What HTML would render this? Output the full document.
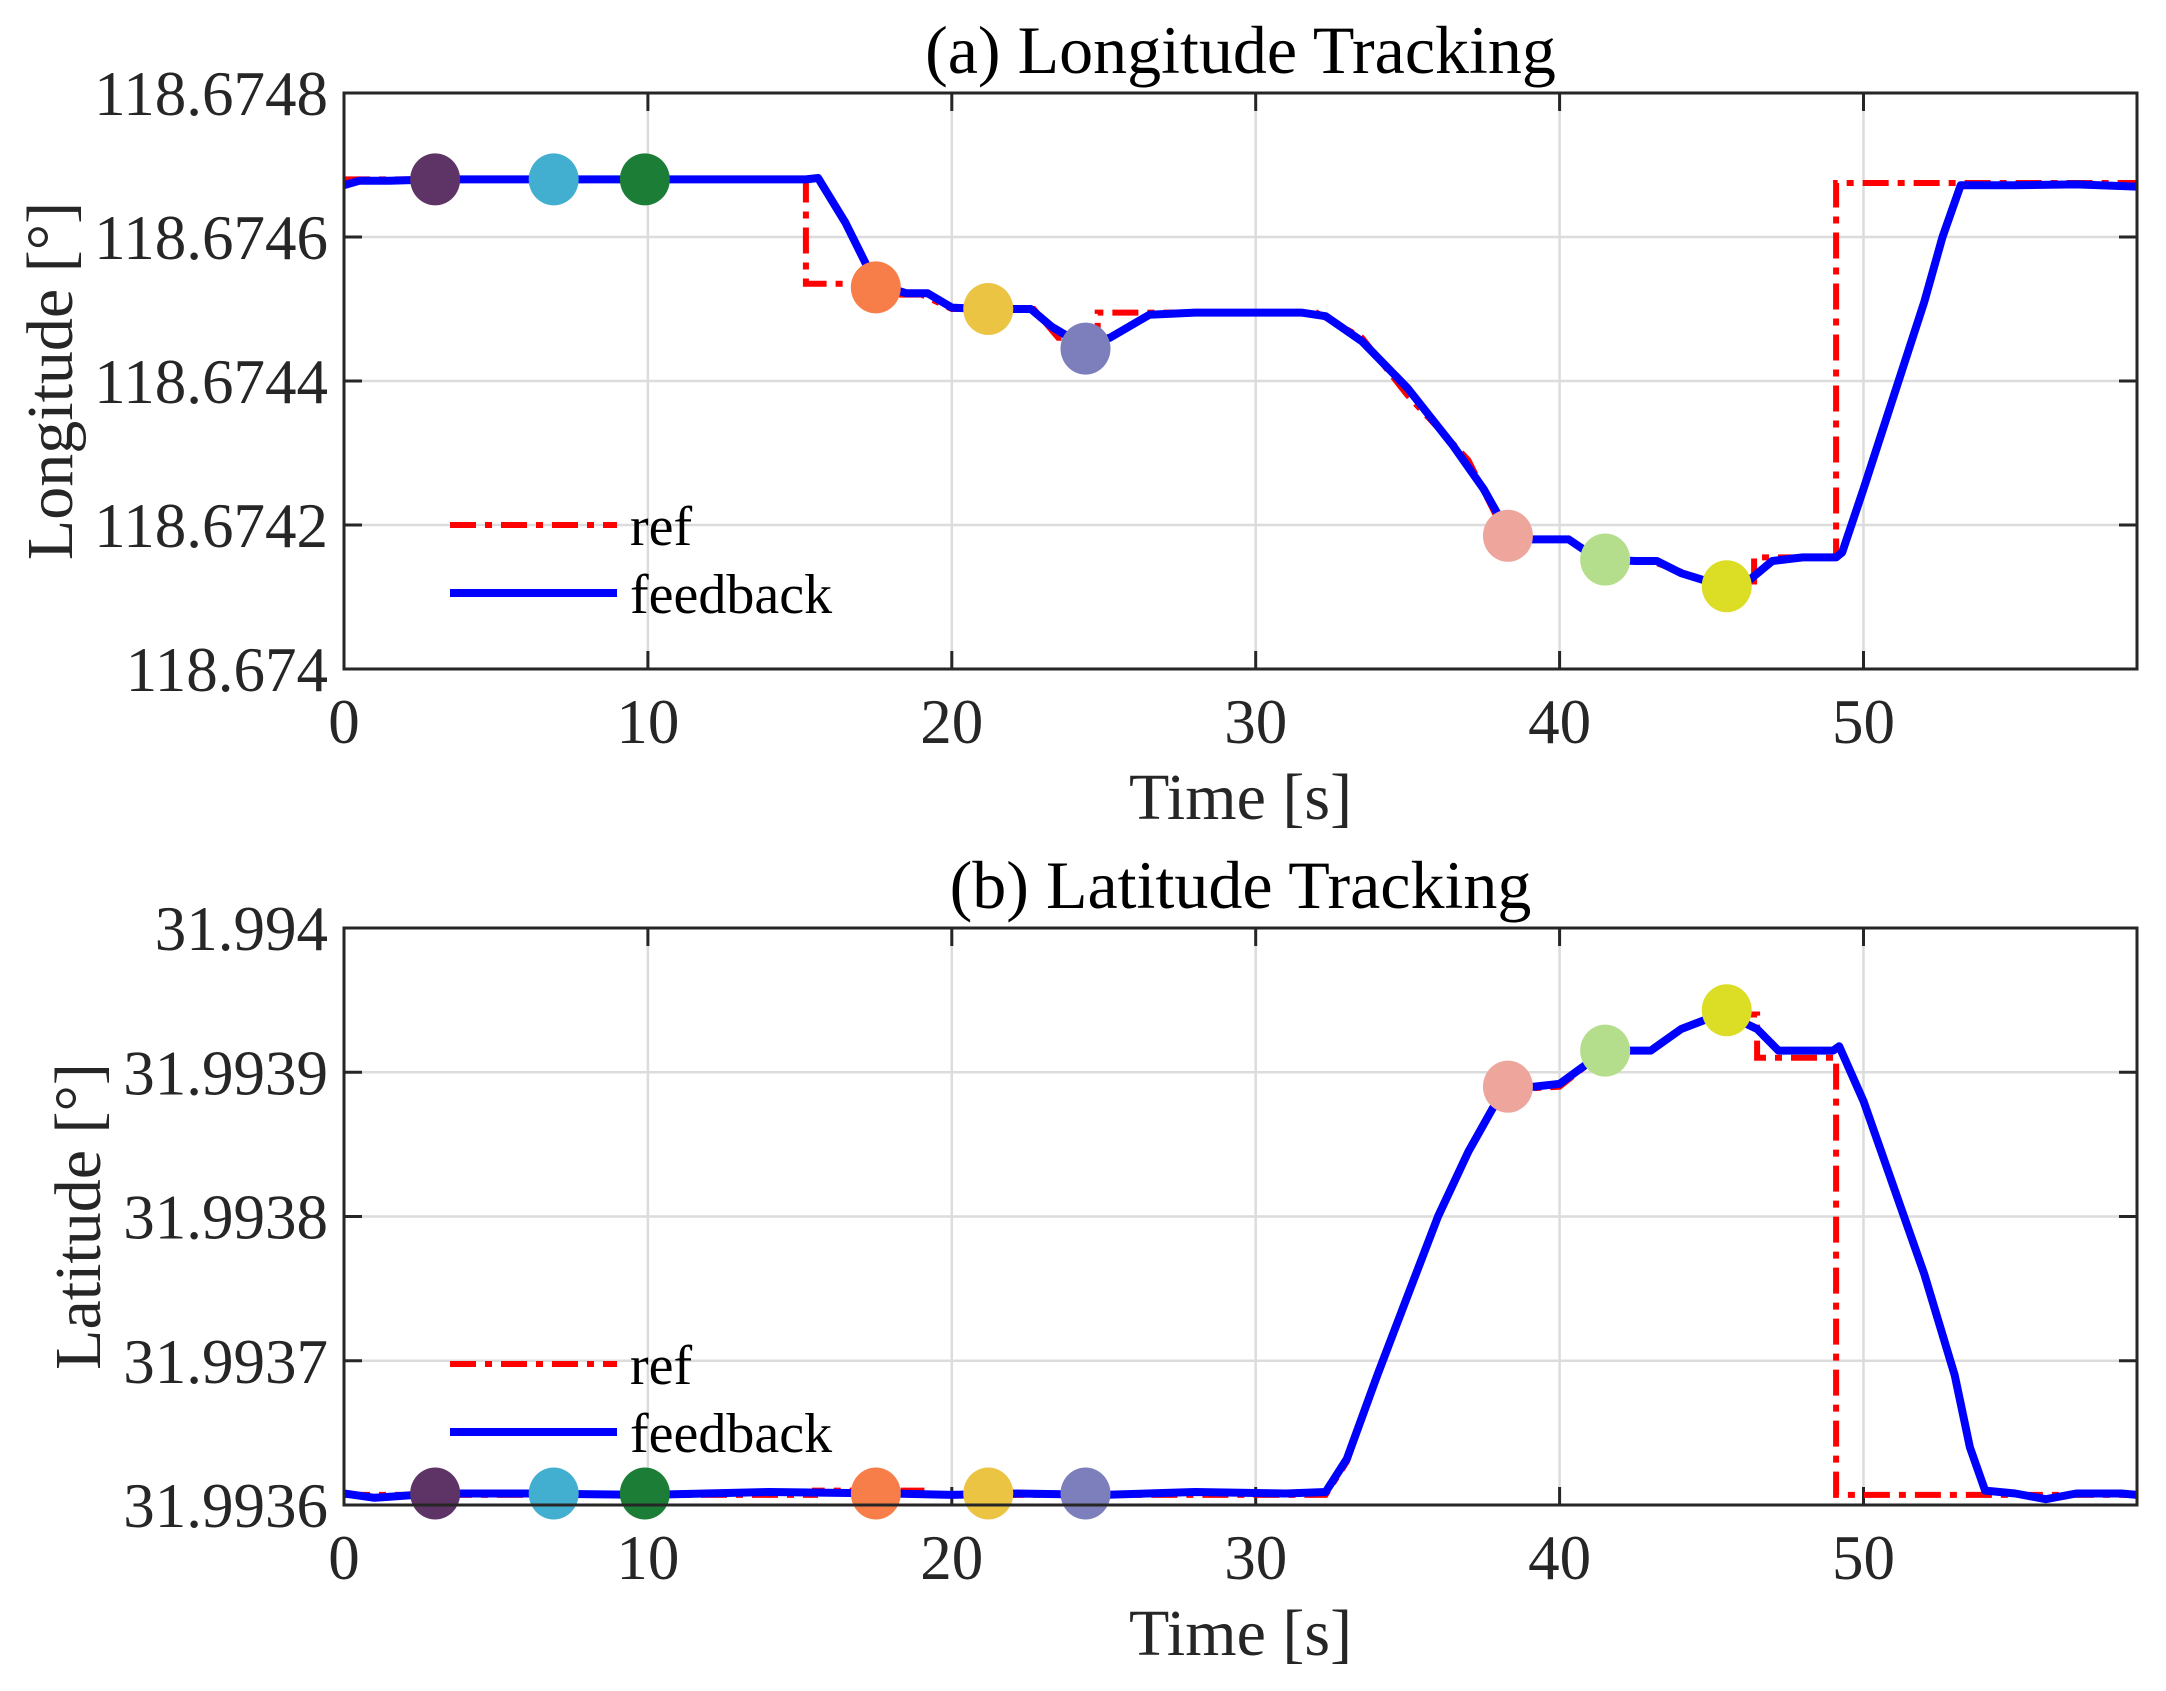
<!DOCTYPE html>
<html><head><meta charset="utf-8"><style>
html,body{margin:0;padding:0;background:#fff}
svg{display:block}
text{font-family:"Liberation Serif",serif;fill:#262626}
</style></head><body>
<svg id="chart" width="2166" height="1691" viewBox="0 0 2166 1691" xmlns="http://www.w3.org/2000/svg"></svg>
<script>
// ---- data ----
const xTicks = [0,10,20,30,40,50];
const lonTickLabels = ["118.674","118.6742","118.6744","118.6746","118.6748"];
const latTickLabels = ["31.9936","31.9937","31.9938","31.9939","31.994"];
// longitude in units of 1e-4 deg above 118.674
const lonRefT = [0,15.2,15.2,17.5,18.0,19.0,20.0,22.7,23.5,24.8,24.8,32,33.5,35,37,38.3,40.3,41.5,43,45,45.5,46.4,46.4,49.1,49.1,59];
const lonRefV = [6.8,6.8,5.35,5.35,5.2,5.2,5.0,5.0,4.6,4.6,4.95,4.95,4.6,3.8,2.9,1.8,1.8,1.5,1.5,1.2,1.15,1.15,1.55,1.55,6.75,6.75];
const lonFbT = [0,0.5,1.5,3,5,8,12,15.2,15.6,16.5,17.5,18.5,19.2,20,21,22.6,23.3,24.3,25.2,26.5,28,31.5,32.3,33.5,35,36.5,37.5,38.3,39,40.3,41,41.5,42.5,43.2,44,45,45.5,46.2,47,48,49.1,49.3,50,51,52,52.6,53.2,55,57,59];
const lonFbV = [6.72,6.78,6.78,6.8,6.8,6.8,6.8,6.8,6.82,6.2,5.35,5.22,5.22,5.02,5.0,5.0,4.75,4.5,4.6,4.92,4.95,4.95,4.9,4.55,3.9,3.1,2.5,1.9,1.8,1.8,1.6,1.52,1.5,1.5,1.33,1.2,1.15,1.22,1.5,1.55,1.55,1.62,2.5,3.8,5.1,6.0,6.72,6.72,6.73,6.7];
const latRefT = [0,15.5,15.5,19,19,32.3,33,34,35,36,37,37.8,38.3,40,41.5,43,44,45,45.5,46.5,46.5,49.1,49.1,59];
const latRefV = [0.07,0.07,0.1,0.1,0.07,0.07,0.3,0.9,1.45,2.0,2.45,2.75,2.88,2.9,3.15,3.15,3.3,3.38,3.4,3.4,3.1,3.1,0.07,0.07];
const latFbT = [0,1,3,6,10,14,18,20,22,25,28,31,32.3,33,34,35,36,37,37.8,38.3,40,41.5,43,44,45,45.5,46.5,47.2,49,49.2,50,51,52,53,53.5,54,55,56,57,58.5,59];
const latFbV = [0.08,0.05,0.08,0.08,0.07,0.09,0.08,0.07,0.08,0.07,0.09,0.08,0.09,0.32,0.9,1.45,2.0,2.45,2.75,2.88,2.92,3.15,3.15,3.3,3.38,3.4,3.3,3.15,3.15,3.18,2.8,2.2,1.6,0.9,0.4,0.1,0.08,0.04,0.08,0.08,0.07];
const markerColors = ["#5e3366","#42aed0","#1b7d36","#f77e48","#ecc444","#7d7fbc","#eda59c","#b4de8c","#dcdd25"];
const markerT = [3.0,6.9,9.9,17.5,21.2,24.4,38.3,41.5,45.5];
const lonMarkerV = [6.8,6.8,6.8,5.3,5.0,4.45,1.85,1.52,1.15];
const latMarkerV = [0.08,0.08,0.08,0.08,0.08,0.08,2.9,3.15,3.43];

const NS="http://www.w3.org/2000/svg";
const svg=document.getElementById('chart');
function mk(tag,attrs,parent){const e=document.createElementNS(NS,tag);for(const k in attrs)e.setAttribute(k,attrs[k]);(parent||svg).appendChild(e);return e;}

function panel(cfg){
  const L=344,R=2137,T=cfg.top,B=cfg.bottom;
  const xs=t=>L+(t-0)/59*(R-L);
  const ys=v=>B-(v-cfg.vmin)/(cfg.vmax-cfg.vmin)*(B-T);
  const g=mk('g',{});
  
  
  xTicks.forEach(t=>{ if(t>0){const l=mk('line',{x1:xs(t),x2:xs(t),y1:T,y2:B,stroke:'#dcdcdc','stroke-width':2.5},g);
    }});
  cfg.labels.forEach((s,i)=>{const v=cfg.vmin+i*(cfg.vmax-cfg.vmin)/(cfg.labels.length-1);
    if(i>0&&i<cfg.labels.length-1){const l=mk('line',{x1:L,x2:R,y1:ys(v),y2:ys(v),stroke:'#dcdcdc','stroke-width':2.5},g);
    }
    const tx=mk('text',{x:L-16,y:ys(v)+22,'text-anchor':'end','font-size':63},g);tx.textContent=s;
    
    mk('line',{x1:L,x2:L+18,y1:ys(v),y2:ys(v),stroke:'#262626','stroke-width':3},g);
    mk('line',{x1:R,x2:R-18,y1:ys(v),y2:ys(v),stroke:'#262626','stroke-width':3},g);
  });
  xTicks.forEach(t=>{const tx=mk('text',{x:xs(t),y:B+74,'text-anchor':'middle','font-size':63},g);tx.textContent=t;
    
    mk('line',{x1:xs(t),x2:xs(t),y1:B,y2:B-18,stroke:'#262626','stroke-width':3},g);
    mk('line',{x1:xs(t),x2:xs(t),y1:T,y2:T+18,stroke:'#262626','stroke-width':3},g);});
  const clip='clip'+cfg.name;
  const cp=mk('clipPath',{id:clip},g);mk('rect',{x:L,y:T-30,width:R-L,height:B-T+60},cp);
  const pts=(ts,vs)=>ts.map((t,i)=>xs(t).toFixed(1)+','+ys(vs[i]).toFixed(1)).join(' ');
  const ref=mk('polyline',{points:pts(cfg.refT,cfg.refV),fill:'none',stroke:'#ff0000','stroke-width':6,'stroke-dasharray':'26,9,7,9','clip-path':'url(#'+clip+')'},g);
  
  const fb=mk('polyline',{points:pts(cfg.fbT,cfg.fbV),fill:'none',stroke:'#0000ff','stroke-width':8,'stroke-linejoin':'round','clip-path':'url(#'+clip+')'},g);
  
  markerT.forEach((t,i)=>{const c=mk('ellipse',{cx:xs(t),cy:ys(cfg.markV[i]),rx:25,ry:26,fill:markerColors[i]},g);
    });
  const box=mk('rect',{x:L,y:T,width:R-L,height:B-T,fill:'none',stroke:'#262626','stroke-width':3},g);
  
  const ti=mk('text',{x:(L+R)/2,y:T-20,'text-anchor':'middle','font-size':68,style:'fill:#000'},g);ti.textContent=cfg.title;
  
  const xl=mk('text',{x:(L+R)/2,y:B+150,'text-anchor':'middle','font-size':66},g);xl.textContent='Time [s]';
  
  const cy=(T+B)/2;
  const yl=mk('text',{x:0,y:0,'text-anchor':'middle','font-size':66,transform:'translate('+cfg.ylabX+','+cy+') rotate(-90)'},g);yl.textContent=cfg.ylab;
  
  const lg=mk('g',{},g);
  
  const ly1=cfg.legY, ly2=cfg.legY+68;
  mk('line',{x1:450,x2:617,y1:ly1,y2:ly1,stroke:'#ff0000','stroke-width':6,'stroke-dasharray':'26,9,7,9'},lg);
  const t1=mk('text',{x:630,y:ly1+20,'font-size':56,style:'fill:#000'},lg);t1.textContent='ref';
  
  mk('line',{x1:450,x2:617,y1:ly2,y2:ly2,stroke:'#0000ff','stroke-width':8},lg);
  const t2=mk('text',{x:630,y:ly2+20,'font-size':56,style:'fill:#000'},lg);t2.textContent='feedback';
  
}
panel({name:'longitude-panel',top:93,bottom:669,vmin:0,vmax:8,labels:lonTickLabels,title:'(a) Longitude Tracking',ylab:'Longitude [°]',ylabX:72,
  refT:lonRefT,refV:lonRefV,fbT:lonFbT,fbV:lonFbV,markV:lonMarkerV,legY:525});
panel({name:'latitude-panel',top:928,bottom:1505,vmin:0,vmax:4,labels:latTickLabels,title:'(b) Latitude Tracking',ylab:'Latitude [°]',ylabX:100,
  refT:latRefT,refV:latRefV,fbT:latFbT,fbV:latFbV,markV:latMarkerV,legY:1364});
</script>
</body></html>
